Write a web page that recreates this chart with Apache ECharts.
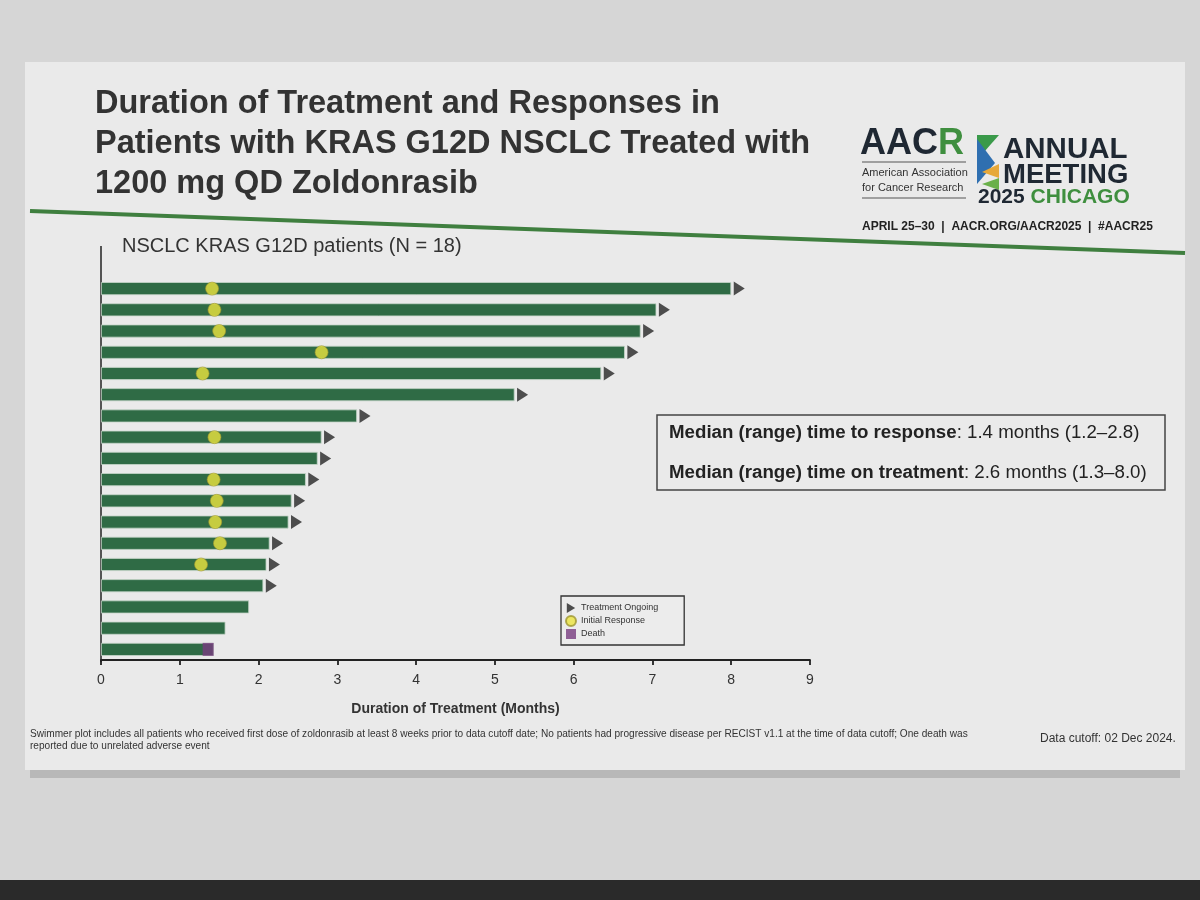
<!DOCTYPE html>
<html>
<head>
<meta charset="utf-8">
<script src="https://cdn.jsdelivr.net/npm/echarts@6/dist/echarts.min.js"></script>
<style>
  html, body { margin: 0; padding: 0; background: #d3d3d3; }
  #chart { width: 1200px; height: 900px; }
</style>
</head>
<body>
<div id="chart"></div>
<script>
// patients, top to bottom
var patients = ['P1', 'P2', 'P3', 'P4', 'P5', 'P6', 'P7', 'P8', 'P9', 'P10', 'P11', 'P12', 'P13', 'P14', 'P15', 'P16', 'P17', 'P18'];
// months on treatment
var durations = [8.0, 7.05, 6.85, 6.65, 6.35, 5.25, 3.25, 2.8, 2.75, 2.6, 2.42, 2.38, 2.14, 2.1, 2.06, 1.88, 1.58, 1.43];
// month of initial response (null = none)
var responses = [1.41, 1.44, 1.5, 2.8, 1.29, null, null, 1.44, null, 1.43, 1.47, 1.45, 1.51, 1.27, null, null, null, null];
// 1 = treatment ongoing
var ongoing = [1, 1, 1, 1, 1, 1, 1, 1, 1, 1, 1, 1, 1, 1, 1, 0, 0, 0];
// month of death (null = none)
var deaths = [null, null, null, null, null, null, null, null, null, null, null, null, null, null, null, null, null, 1.36];
var xTicks = [0, 1, 2, 3, 4, 5, 6, 7, 8, 9];

var FONT = 'Liberation Sans, Arial, sans-serif';

var ongoingData = [], respData = [], deathData = [];
for (var i = 0; i < patients.length; i++) {
    if (ongoing[i]) ongoingData.push([durations[i], patients[i]]);
    if (responses[i] != null) respData.push([responses[i], patients[i]]);
    if (deaths[i] != null) deathData.push([deaths[i], patients[i]]);
}

// small helper for slide texts placed by their vertical centre
function txt(x, y, text, font, fill, extra) {
    var s = { text: text, font: font + ' ' + FONT, fill: fill || '#333', verticalAlign: 'middle' };
    if (extra) for (var k in extra) s[k] = extra[k];
    return { type: 'text', x: x, y: y, style: s };
}

var boxRich = {
    b: { font: 'bold 18.7px ' + FONT, fill: '#222' },
    n: { font: '18.7px ' + FONT, fill: '#222' }
};

var myChart = echarts.init(document.getElementById('chart'));
var option = {
    backgroundColor: '#d6d6d6',
    animation: false,
    grid: { left: 101, top: 278, width: 709, height: 382 },
    xAxis: {
        type: 'value',
        min: xTicks[0],
        max: xTicks[xTicks.length - 1],
        interval: 1,
        splitLine: { show: false },
        axisLine: { show: true, lineStyle: { color: '#222', width: 1.8 } },
        axisTick: { show: true, length: 5, lineStyle: { color: '#222', width: 1.8 } },
        axisLabel: { color: '#333', fontSize: 14, fontFamily: FONT, margin: 13 },
        name: 'Duration of Treatment (Months)',
        nameLocation: 'middle',
        nameGap: 42,
        nameTextStyle: { color: '#333', fontSize: 14, fontWeight: 'bold', fontFamily: FONT }
    },
    yAxis: {
        type: 'category',
        data: patients,
        inverse: true,
        axisLine: { show: false },
        axisTick: { show: false },
        axisLabel: { show: false }
    },
    legend: {
        orient: 'vertical',
        left: 561,
        top: 596,
        data: [
            { name: 'Treatment Ongoing', icon: 'path://M0,0L10,6L0,12Z' },
            { name: 'Initial Response', icon: 'circle' },
            { name: 'Death', icon: 'rect' }
        ],
        backgroundColor: '#ececec',
        borderColor: '#333',
        borderWidth: 1.3,
        borderRadius: 0,
        padding: [7, 26, 6, 4],
        itemWidth: 10,
        itemHeight: 10,
        itemGap: 2,
        textStyle: { color: '#333', fontSize: 9, fontFamily: FONT }
    },
    series: [
        {
            name: 'Duration',
            type: 'bar',
            data: durations,
            barWidth: 13,
            itemStyle: { color: '#2f6b45', borderColor: '#c6d6c9', borderWidth: 0.8 },
            z: 2
        },
        {
            name: 'Treatment Ongoing',
            type: 'scatter',
            data: ongoingData,
            symbol: 'path://M0,0L10,6L0,12Z',
            symbolSize: [11, 14],
            symbolOffset: [8, 0],
            itemStyle: { color: '#262626' },
            z: 3
        },
        {
            name: 'Initial Response',
            type: 'scatter',
            data: respData,
            symbol: 'circle',
            symbolSize: 13,
            itemStyle: { color: '#ece53f', borderColor: '#9d9630', borderWidth: 0.8 },
            z: 4
        },
        {
            name: 'Death',
            type: 'scatter',
            data: deathData,
            symbol: 'rect',
            symbolSize: [11, 13],
            itemStyle: { color: '#783c80' },
            z: 4
        }
    ],
    graphic: [
        // slide
        { type: 'rect', z: -10, shape: { x: 25, y: 62, width: 1160, height: 708 }, style: { fill: '#eaeaea' } },
        { type: 'rect', z: -11, shape: { x: 30, y: 768, width: 1150, height: 10 }, style: { fill: '#9a9a9a', opacity: 0.5 } },
        { type: 'rect', z: -10, shape: { x: 0, y: 880, width: 1200, height: 20 }, style: { fill: '#2a2a2a' } },
        // title
        {
            type: 'text', left: 95, top: 84,
            style: {
                text: 'Duration of Treatment and Responses in\nPatients with KRAS G12D NSCLC Treated with\n1200 mg QD Zoldonrasib',
                font: 'bold 32.5px ' + FONT, fill: '#333', lineHeight: 40
            }
        },
        { type: 'line', shape: { x1: 30, y1: 211, x2: 1185, y2: 253 }, style: { stroke: '#3f7f3f', lineWidth: 4 } },
        // logo
        txt(860, 144, '{a|AAC}{r|R}', 'bold 36px', '#1f2833', {
            rich: {
                a: { font: 'bold 36px ' + FONT, fill: '#1f2833' },
                r: { font: 'bold 36px ' + FONT, fill: '#3f8f3f' }
            }
        }),
        { type: 'line', shape: { x1: 862, y1: 162, x2: 966, y2: 162 }, style: { stroke: '#555', lineWidth: 1 } },
        txt(862, 173, 'American Association', '11px'),
        txt(862, 188, 'for Cancer Research', '11px'),
        { type: 'line', shape: { x1: 862, y1: 198, x2: 966, y2: 198 }, style: { stroke: '#555', lineWidth: 1 } },
        { type: 'polygon', shape: { points: [[977, 135], [999, 135], [977, 160]] }, style: { fill: '#3a9a4a' } },
        { type: 'polygon', shape: { points: [[977, 139], [995, 163], [977, 184]] }, style: { fill: '#2f6fb0' } },
        { type: 'polygon', shape: { points: [[982, 172], [999, 164], [999, 178]] }, style: { fill: '#e6a83a' } },
        { type: 'polygon', shape: { points: [[982, 184], [999, 178], [999, 190]] }, style: { fill: '#6ab04a' } },
        txt(1003, 150, 'ANNUAL', 'bold 29.5px', '#1f2833'),
        txt(1003, 175, 'MEETING', 'bold 27.5px', '#1f2833'),
        txt(978, 197, '{a|2025 }{c|CHICAGO}', 'bold 21px', '#1f2833', {
            rich: {
                a: { font: 'bold 21px ' + FONT, fill: '#1f2833' },
                c: { font: 'bold 21px ' + FONT, fill: '#3f8f3f' }
            }
        }),
        txt(862, 227, 'APRIL 25–30  |  AACR.ORG/AACR2025  |  #AACR25', 'bold 12px', '#222'),
        // subtitle and left rule
        txt(122, 246, 'NSCLC KRAS G12D patients (N = 18)', '20px'),
        { type: 'line', shape: { x1: 101, y1: 246, x2: 101, y2: 662 }, style: { stroke: '#222', lineWidth: 1.5 } },
        // summary box
        { type: 'rect', shape: { x: 657, y: 415, width: 508, height: 75 }, style: { fill: 'none', stroke: '#444', lineWidth: 1.5 } },
        txt(669, 433, '{b|Median (range) time to response}{n|: 1.4 months (1.2–2.8)}', '18.7px', '#222', { rich: boxRich }),
        txt(669, 473, '{b|Median (range) time on treatment}{n|: 2.6 months (1.3–8.0)}', '18.7px', '#222', { rich: boxRich }),
        // footnotes
        {
            type: 'text', left: 30, top: 728,
            style: {
                text: 'Swimmer plot includes all patients who received first dose of zoldonrasib at least 8 weeks prior to data cutoff date; No patients had progressive disease per RECIST v1.1 at the time of data cutoff; One death was\nreported due to unrelated adverse event',
                font: '10.1px ' + FONT, fill: '#333', lineHeight: 12
            }
        },
        txt(1040, 739, 'Data cutoff: 02 Dec 2024.', '12px')
    ]
};
myChart.setOption(option);
</script>
</body>
</html>
